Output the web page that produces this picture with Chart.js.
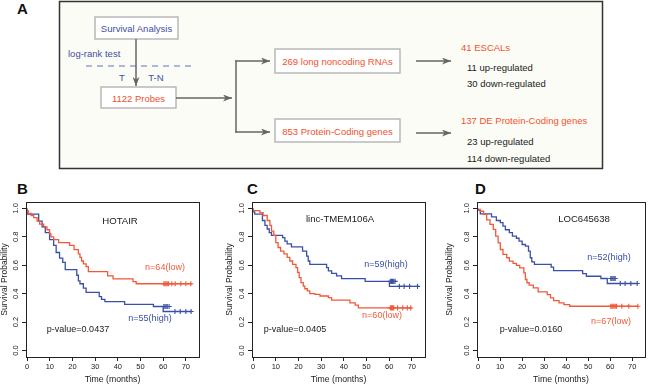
<!DOCTYPE html>
<html>
<head>
<meta charset="utf-8">
<script src="https://cdn.jsdelivr.net/npm/chart.js@4.4.1/dist/chart.umd.min.js"></script>
<style>
  body { margin: 0; background: #fff; width: 650px; height: 385px; position: relative; overflow: hidden;
         font-family: Arial, "Liberation Sans", sans-serif; }
  canvas { position: absolute; }
  .note { position: absolute; transform: translate(-50%, -50%); white-space: nowrap; font-size: 9px; color: #1a1a1a; }
  .gene { font-size: 9.6px; }
  .letter { position: absolute; font-weight: bold; font-size: 15px; color: #111; line-height: 1; }
  svg text { font-family: Arial, "Liberation Sans", sans-serif; font-size: 9.5px; }
</style>
</head>
<body>

<!-- panel A: flow chart -->
<svg width="650" height="175" style="position:absolute;left:0;top:0">
  <defs>
    <marker id="ah" markerWidth="9" markerHeight="7" refX="9" refY="3.5" orient="auto" markerUnits="userSpaceOnUse">
      <path d="M0,0 L9,3.5 L0,7 L2.5,3.5 z" fill="#666"/>
    </marker>
  </defs>
  <text x="17" y="14" style="font-size:15px;font-weight:bold" fill="#111">A</text>
  <rect x="59.5" y="1.5" width="543" height="167" fill="#fcfcf6" stroke="#333" stroke-width="1.5"/>

  <rect x="95" y="17" width="83" height="22" fill="#fff" stroke="#b8b8b8" stroke-width="1.5"/>
  <text x="136.5" y="28.5" text-anchor="middle" dominant-baseline="central" fill="#3f4f9f">Survival Analysis</text>
  <text x="68" y="53.5" dominant-baseline="central" fill="#3f4f9f">log-rank test</text>
  <line x1="86" y1="66" x2="192" y2="66" stroke="#6070c0" stroke-width="1" stroke-dasharray="6 5"/>
  <line x1="136" y1="39" x2="136" y2="86" stroke="#666" stroke-width="1.5" marker-end="url(#ah)"/>
  <text x="122" y="77" text-anchor="middle" dominant-baseline="central" fill="#3f4f9f">T</text>
  <text x="156" y="77" text-anchor="middle" dominant-baseline="central" fill="#3f4f9f">T-N</text>

  <rect x="101" y="87" width="75" height="21" fill="#fff" stroke="#b8b8b8" stroke-width="1.5"/>
  <text x="138.5" y="98" text-anchor="middle" dominant-baseline="central" fill="#f0522e">1122 Probes</text>
  <line x1="176" y1="98" x2="232" y2="98" stroke="#666" stroke-width="1.5" marker-end="url(#ah)"/>
  <line x1="236" y1="60.3" x2="236" y2="132.7" stroke="#666" stroke-width="1.5"/>
  <line x1="235.3" y1="61" x2="270" y2="61" stroke="#666" stroke-width="1.5" marker-end="url(#ah)"/>
  <line x1="235.3" y1="132" x2="270" y2="132" stroke="#666" stroke-width="1.5" marker-end="url(#ah)"/>

  <rect x="275" y="49" width="125" height="24" fill="#fff" stroke="#b8b8b8" stroke-width="1.5"/>
  <text x="337.5" y="61" text-anchor="middle" dominant-baseline="central" fill="#f0522e">269 long noncoding RNAs</text>
  <rect x="275" y="119" width="125" height="23" fill="#fff" stroke="#b8b8b8" stroke-width="1.5"/>
  <text x="337.5" y="131" text-anchor="middle" dominant-baseline="central" fill="#f0522e">853 Protein-Coding genes</text>

  <line x1="416" y1="61" x2="451" y2="61" stroke="#666" stroke-width="1.5" marker-end="url(#ah)"/>
  <line x1="416" y1="133" x2="451" y2="133" stroke="#666" stroke-width="1.5" marker-end="url(#ah)"/>

  <text x="461" y="47" dominant-baseline="central" fill="#f0522e">41 ESCALs</text>
  <text x="467" y="67" dominant-baseline="central" fill="#1a1a1a">11 up-regulated</text>
  <text x="467" y="83.5" dominant-baseline="central" fill="#1a1a1a">30 down-regulated</text>
  <text x="461" y="120" dominant-baseline="central" fill="#f0522e">137 DE Protein-Coding genes</text>
  <text x="467" y="141" dominant-baseline="central" fill="#1a1a1a">23 up-regulated</text>
  <text x="467" y="158" dominant-baseline="central" fill="#1a1a1a">114 down-regulated</text>
</svg>

<div class="letter" style="left:17px;top:181px">B</div>
<div class="letter" style="left:247px;top:181px">C</div>
<div class="letter" style="left:475px;top:181px">D</div>

<canvas id="kmB" width="215" height="190" style="left:0;top:195px"></canvas>
<canvas id="kmC" width="215" height="190" style="left:225px;top:195px"></canvas>
<canvas id="kmD" width="205" height="190" style="left:445px;top:195px"></canvas>

<div class="note gene" style="left:120px;top:220px">HOTAIR</div>
<div class="note" style="left:165px;top:267px;color:#ef5a3a">n=64(low)</div>
<div class="note" style="left:150px;top:318px;color:#3a4fa6">n=55(high)</div>
<div class="note" style="left:78px;top:329px">p-value=0.0437</div>

<div class="note gene" style="left:340px;top:218px">linc-TMEM106A</div>
<div class="note" style="left:386px;top:264px;color:#3a4fa6">n=59(high)</div>
<div class="note" style="left:382px;top:315px;color:#ef5a3a">n=60(low)</div>
<div class="note" style="left:295px;top:329px">p-value=0.0405</div>

<div class="note gene" style="left:584px;top:218px">LOC645638</div>
<div class="note" style="left:609px;top:257px;color:#3a4fa6">n=52(high)</div>
<div class="note" style="left:611px;top:321px;color:#ef5a3a">n=67(low)</div>
<div class="note" style="left:531px;top:329px">p-value=0.0160</div>

<script>
const RED = '#ef5a3a';
const BLUE = '#3a4fa6';

const xTicks = [0, 10, 20, 30, 40, 50, 60, 70];
const yTicks = [0, 0.2, 0.4, 0.6, 0.8, 1.0];

// HOTAIR
const hotairLowT  = [0, 0.5, 1.75, 2.9, 4.4, 5.5, 7.3, 8.75, 9.9, 10.5, 11.7, 13.9, 18.7, 20.7, 22.6, 23.3, 24, 24.8, 26, 27, 35.5, 37.9, 46.7, 48.1, 49.5, 72.6];
const hotairLowS  = [1, 0.985, 0.965, 0.95, 0.935, 0.91, 0.89, 0.87, 0.85, 0.82, 0.80, 0.78, 0.76, 0.74, 0.71, 0.68, 0.655, 0.63, 0.61, 0.59, 0.555, 0.525, 0.505, 0.485, 0.47, 0.47];
const hotairLowC  = [60.3, 60.8, 61.3, 61.8, 62.4, 63.8, 65.3, 67.8, 70, 72.2];
const hotairHighT = [0, 5.1, 6.6, 8, 9.9, 11.7, 12.8, 14.3, 15.7, 16.8, 21.9, 22.6, 23.3, 24.8, 26, 31.8, 32.8, 34.3, 43, 55.7, 60, 63, 72.6];
const hotairHighS = [1, 0.96, 0.91, 0.87, 0.83, 0.78, 0.74, 0.69, 0.65, 0.62, 0.57, 0.53, 0.49, 0.47, 0.44, 0.41, 0.38, 0.36, 0.345, 0.325, 0.31, 0.275, 0.275];
const hotairHighC = [60.3, 60.8, 61.3, 61.8, 62.6, 65.2, 67.5, 70, 72.3];

// linc-TMEM106A
const tmemLowT  = [0, 3, 4.4, 6.2, 7.4, 8.1, 9.1, 10, 11, 12.1, 13.6, 15, 16.2, 17.4, 18.9, 19.6, 20.3, 21.1, 22.1, 22.8, 23.9, 25, 27.3, 29.5, 33.2, 34.6, 42.7, 45, 46.4, 56.3, 70];
const tmemLowS  = [1, 0.985, 0.97, 0.95, 0.915, 0.88, 0.84, 0.81, 0.76, 0.725, 0.70, 0.68, 0.655, 0.63, 0.607, 0.584, 0.55, 0.513, 0.478, 0.454, 0.435, 0.42, 0.40, 0.395, 0.384, 0.372, 0.355, 0.336, 0.32, 0.30, 0.30];
const tmemLowC  = [60.5, 61, 61.5, 62, 63.7, 66, 68, 69.5];
const tmemHighT = [0, 0.7, 4.1, 5.2, 6.2, 7.1, 8.1, 13, 14, 15, 16.9, 21.8, 23.6, 24.3, 25, 32.4, 33.2, 34.6, 36.8, 39, 49.4, 60.1, 63.4, 73];
const tmemHighS = [1, 0.975, 0.96, 0.915, 0.88, 0.855, 0.83, 0.81, 0.795, 0.77, 0.75, 0.73, 0.70, 0.665, 0.63, 0.607, 0.584, 0.56, 0.543, 0.525, 0.506, 0.487, 0.452, 0.452];
const tmemHighC = [60.5, 61, 61.5, 62, 62.6, 64.5, 66.6, 69, 72.5];

// LOC645638
const locLowT  = [0, 1, 2.5, 3.9, 5.4, 6.9, 8, 9.1, 10.1, 11.3, 13, 14.2, 15.9, 17.4, 18.9, 20.8, 21.5, 22.2, 23.2, 25.1, 27.3, 31.4, 32.9, 34.3, 36.8, 39, 41.6, 45.6, 72.6];
const locLowS  = [1, 0.993, 0.98, 0.958, 0.92, 0.887, 0.852, 0.805, 0.758, 0.711, 0.676, 0.653, 0.629, 0.613, 0.599, 0.582, 0.547, 0.50, 0.477, 0.46, 0.441, 0.413, 0.394, 0.371, 0.352, 0.336, 0.324, 0.312, 0.312];
const locLowC  = [60.3, 60.8, 61.3, 61.8, 62.3, 62.9, 65.3, 68.5, 72.6];
const locHighT = [0, 1, 6.1, 8.3, 10.1, 11.3, 12.4, 14.2, 15.6, 17.4, 18.6, 20, 21.5, 22.9, 23.7, 24.4, 25.6, 33.2, 34.3, 47.5, 49.2, 55.8, 58.7, 63.1, 72.6];
const locHighS = [1, 0.988, 0.962, 0.94, 0.915, 0.90, 0.875, 0.85, 0.83, 0.805, 0.79, 0.77, 0.746, 0.735, 0.70, 0.653, 0.624, 0.606, 0.587, 0.563, 0.542, 0.523, 0.507, 0.472, 0.472];
const locHighC = [60.3, 60.8, 61.3, 61.8, 62.3, 64.6, 66.8, 69.4, 72.3];

Chart.defaults.font.family = 'Arial, "Liberation Sans", sans-serif';
Chart.defaults.color = '#1a1a1a';

function stepValue(T, S, t) {
  let v = S[0];
  for (let i = 0; i < T.length; i++) if (T[i] <= t) v = S[i];
  return v;
}
const curve = (T, S) => T.map((t, i) => ({ x: t, y: S[i] }));
const marks = (T, S, C) => C.map(t => ({ x: t, y: stepValue(T, S, t) }));

// box around the plot area, like R's bty="o"
const framePlugin = {
  id: 'frame',
  afterDraw(chart) {
    const { ctx, chartArea: a } = chart;
    ctx.save();
    ctx.strokeStyle = '#222';
    ctx.lineWidth = 1;
    ctx.strokeRect(Math.round(a.left) + 0.5, Math.round(a.top) + 0.5, Math.round(a.right - a.left), Math.round(a.bottom - a.top));
    ctx.restore();
  }
};

function lineSet(T, S, color) {
  return { data: curve(T, S), showLine: true, stepped: 'after', borderColor: color, borderWidth: 1.3, pointRadius: 0, fill: false };
}
function censorSet(T, S, C, color) {
  return { data: marks(T, S, C), showLine: false, pointStyle: 'cross', pointRadius: 2.6, borderColor: color, borderWidth: 1.1 };
}

function makeKM(id, low, high, yAxisW, padRight) {
  new Chart(document.getElementById(id), {
    type: 'scatter',
    data: {
      datasets: [
        lineSet(low.T, low.S, RED),
        lineSet(high.T, high.S, BLUE),
        censorSet(low.T, low.S, low.C, RED),
        censorSet(high.T, high.S, high.C, BLUE)
      ]
    },
    options: {
      responsive: false,
      animation: false,
      devicePixelRatio: 1,
      layout: { padding: { left: 0, top: 7, right: padRight, bottom: 0 } },
      plugins: { legend: { display: false }, tooltip: { enabled: false } },
      scales: {
        x: {
          type: 'linear', min: -0.5, max: 75.8,
          afterBuildTicks: s => { s.ticks = xTicks.map(v => ({ value: v })); },
          afterFit: s => { s.height = 28; },
          grid: { drawOnChartArea: false, drawTicks: true, tickLength: 4, color: '#222' },
          border: { display: false },
          ticks: { font: { size: 7.5 }, padding: 1, maxRotation: 0, autoSkip: false, callback: v => String(v) },
          title: { display: true, text: 'Time (months)', font: { size: 8.7 }, padding: 0 }
        },
        y: {
          type: 'linear', min: -0.045, max: 1.045,
          afterBuildTicks: s => { s.ticks = yTicks.map(v => ({ value: v })); },
          afterFit: s => { s.width = yAxisW; },
          grid: { drawOnChartArea: false, drawTicks: true, tickLength: 4, color: '#222' },
          border: { display: false },
          ticks: { font: { size: 7.5 }, padding: 1, minRotation: 90, maxRotation: 90, crossAlign: 'center', autoSkip: false, callback: v => v.toFixed(1) },
          title: { display: true, text: 'Survival Probability', font: { size: 8.5 }, padding: 0 }
        }
      }
    },
    plugins: [framePlugin]
  });
}

makeKM('kmB', { T: hotairLowT, S: hotairLowS, C: hotairLowC }, { T: hotairHighT, S: hotairHighS, C: hotairHighC }, 26, 16);
makeKM('kmC', { T: tmemLowT, S: tmemLowS, C: tmemLowC }, { T: tmemHighT, S: tmemHighS, C: tmemHighC }, 27, 15);
makeKM('kmD', { T: locLowT, S: locLowS, C: locLowC }, { T: locHighT, S: locHighS, C: locHighC }, 32, 1);
</script>
</body>
</html>
